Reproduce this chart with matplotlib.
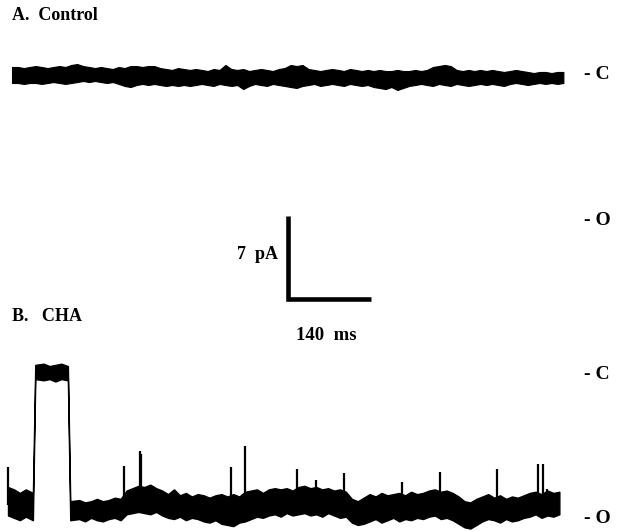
import matplotlib
matplotlib.use('Agg')
import matplotlib.pyplot as plt
import numpy as np

MS_PER_PX = 140 / 83
PA_PER_PX = 7 / 83

# trace A, control: envelope of the record (pA, closed level = 0), every 10 ms
t_a = np.arange(0, 940, 10)
a_top = [0.76, 0.76, 0.67, 0.76, 0.84, 0.76, 0.67, 0.76, 0.84, 0.76,
         0.93, 1.01, 0.84, 0.76, 0.67, 0.76, 0.67, 0.59, 0.76, 0.67,
         0.84, 0.84, 0.76, 0.84, 0.84, 0.67, 0.59, 0.51, 0.67, 0.59,
         0.51, 0.59, 0.51, 0.42, 0.59, 0.51, 0.93, 0.59, 0.51, 0.59,
         0.42, 0.51, 0.59, 0.51, 0.42, 0.59, 0.67, 0.93, 0.84, 0.93,
         0.59, 0.51, 0.42, 0.51, 0.59, 0.51, 0.42, 0.59, 0.51, 0.42,
         0.51, 0.42, 0.51, 0.42, 0.42, 0.51, 0.42, 0.42, 0.51, 0.42,
         0.51, 0.76, 0.84, 0.93, 0.84, 0.51, 0.42, 0.51, 0.42, 0.51,
         0.42, 0.51, 0.42, 0.34, 0.42, 0.51, 0.42, 0.34, 0.25, 0.34,
         0.34, 0.25, 0.34, 0.34]
a_bot = [-0.59, -0.59, -0.67, -0.59, -0.59, -0.67, -0.59, -0.51, -0.59, -0.67,
         -0.59, -0.51, -0.42, -0.51, -0.42, -0.51, -0.59, -0.51, -0.67, -0.84,
         -0.93, -0.76, -0.67, -0.76, -0.67, -0.76, -0.84, -0.76, -0.84, -0.76,
         -0.84, -0.76, -0.67, -0.76, -0.84, -0.67, -0.76, -0.84, -0.76, -1.10,
         -0.84, -0.67, -0.76, -0.84, -0.67, -0.76, -0.84, -0.93, -1.01, -0.84,
         -0.76, -0.67, -0.84, -0.76, -0.67, -0.76, -0.84, -0.67, -0.76, -0.84,
         -0.76, -0.93, -1.01, -1.10, -0.93, -1.18, -1.01, -0.84, -0.76, -0.67,
         -0.76, -0.84, -0.67, -0.76, -0.84, -0.67, -0.76, -0.84, -0.76, -0.67,
         -0.76, -0.67, -0.76, -0.84, -0.67, -0.59, -0.67, -0.76, -0.67, -0.59,
         -0.67, -0.59, -0.67, -0.59]

# trace B, CHA: envelope (pA, closed level = 0); samples every 10 ms,
# with the ones around the closed period moved to the transitions
t_b = [0, 10, 20, 30, 42, 46, 60, 70, 80, 90,
       101, 105, 120, 130, 140, 150, 160, 170, 180, 190]
t_b = np.array(t_b + list(range(200, 940, 10)))
b_top = [-9.7, -9.9, -10.2, -9.9, -10.2, 0.6, 0.7, 0.5, 0.6, 0.7,
         0.5, -10.9, -10.8, -11.0, -10.9, -10.7, -10.9, -10.8, -10.6, -10.7,
         -10.0, -9.8, -9.6, -9.7, -9.5, -9.8, -10.0, -10.3, -9.9, -10.4,
         -10.2, -10.5, -10.3, -10.4, -10.6, -10.4, -10.3, -10.5, -10.3, -10.5,
         -10.1, -10.0, -9.9, -10.2, -9.9, -9.8, -9.9, -9.8, -10.0, -9.7,
         -9.6, -9.8, -9.7, -9.9, -9.8, -10.0, -9.9, -10.1, -10.7, -10.9,
         -10.6, -10.3, -10.5, -10.2, -10.4, -10.3, -10.2, -10.4, -10.1, -10.3,
         -10.2, -10.0, -9.9, -10.1, -10.0, -10.2, -10.5, -10.9, -11.0, -10.7,
         -10.5, -10.3, -10.6, -10.4, -10.7, -10.5, -10.6, -10.4, -10.2, -10.1,
         -10.3, -10.0, -10.2, -10.1]
b_bot = [-12.1, -12.3, -12.5, -12.2, -12.5, -0.6, -0.7, -0.6, -0.8, -0.6,
         -0.7, -12.5, -12.4, -12.6, -12.3, -12.5, -12.6, -12.4, -12.3, -12.5,
         -12.0, -11.9, -11.8, -11.9, -12.0, -11.8, -12.1, -12.3, -12.4, -12.2,
         -12.5, -12.3, -12.4, -12.6, -12.7, -12.5, -12.8, -12.9, -13.0, -12.7,
         -12.6, -12.4, -12.2, -12.3, -12.1, -12.0, -12.2, -11.9, -12.1, -12.0,
         -11.9, -12.1, -12.0, -12.2, -11.9, -12.1, -12.3, -12.2, -12.7, -12.9,
         -12.8, -12.6, -12.4, -12.7, -12.5, -12.3, -12.6, -12.4, -12.5, -12.3,
         -12.4, -12.2, -12.1, -12.4, -12.3, -12.5, -12.8, -13.1, -13.2, -12.9,
         -12.6, -12.4, -12.5, -12.7, -12.4, -12.6, -12.5, -12.3, -12.2, -12.0,
         -12.3, -12.1, -12.2, -12.0]

# brief closings in trace B (time ms, peak pA)
spike_t = [0, 196, 223, 225, 376, 400, 488, 519, 567, 665, 729, 824, 894, 902, 909]
spike_pa = [-8.0, -7.9, -6.7, -6.9, -8.0, -6.2, -8.2, -9.1, -8.5, -9.3, -8.4, -8.2,
            -7.8, -7.8, -9.9]
open_pa = -11.2


def px(x, y):
    return (x - 12) * MS_PER_PX, (76 - y) * PA_PER_PX


b_shift = -4 * MS_PER_PX
b_offset = -(372 - 76) * PA_PER_PX

fig = plt.figure(figsize=(6.2, 5.31), dpi=100)
ax = fig.add_axes([0, 0, 1, 1])
ax.set_xlim(px(0, 0)[0], px(620, 0)[0])
ax.set_ylim(px(0, 531)[1], px(0, 0)[1])
ax.axis('off')

ax.fill_between(t_a, a_bot, a_top, color='black', lw=0.8)
ax.fill_between(t_b + b_shift, np.array(b_bot) + b_offset, np.array(b_top) + b_offset,
                color='black', lw=1.0)
ax.vlines(np.array(spike_t) + b_shift, open_pa + b_offset, np.array(spike_pa) + b_offset,
          color='black', lw=1.6)

# scale bar
x0, y0 = px(288, 299)
ax.plot([x0, x0, x0 + 140], [y0 + 7, y0, y0], color='black', lw=3.3,
        solid_joinstyle='miter', solid_capstyle='butt')

font = dict(family='Liberation Serif', weight='bold', color='black')
ax.text(*px(12, 15), 'A.  Control', ha='left', va='center', fontsize=13, **font)
ax.text(*px(12, 317), 'B.   CHA', ha='left', va='center', fontsize=13, **font)
ax.text(*px(278, 255), '7  pA', ha='right', va='center', fontsize=13, **font)
ax.text(*px(326, 336), '140  ms', ha='center', va='center', fontsize=13.5, **font)
for y, lab in [(75, '- C'), (221, '- O'), (375, '- C'), (519, '- O')]:
    ax.text(*px(584, y), lab, ha='left', va='center', fontsize=14, **font)

fig.savefig('out.png', dpi=100)
